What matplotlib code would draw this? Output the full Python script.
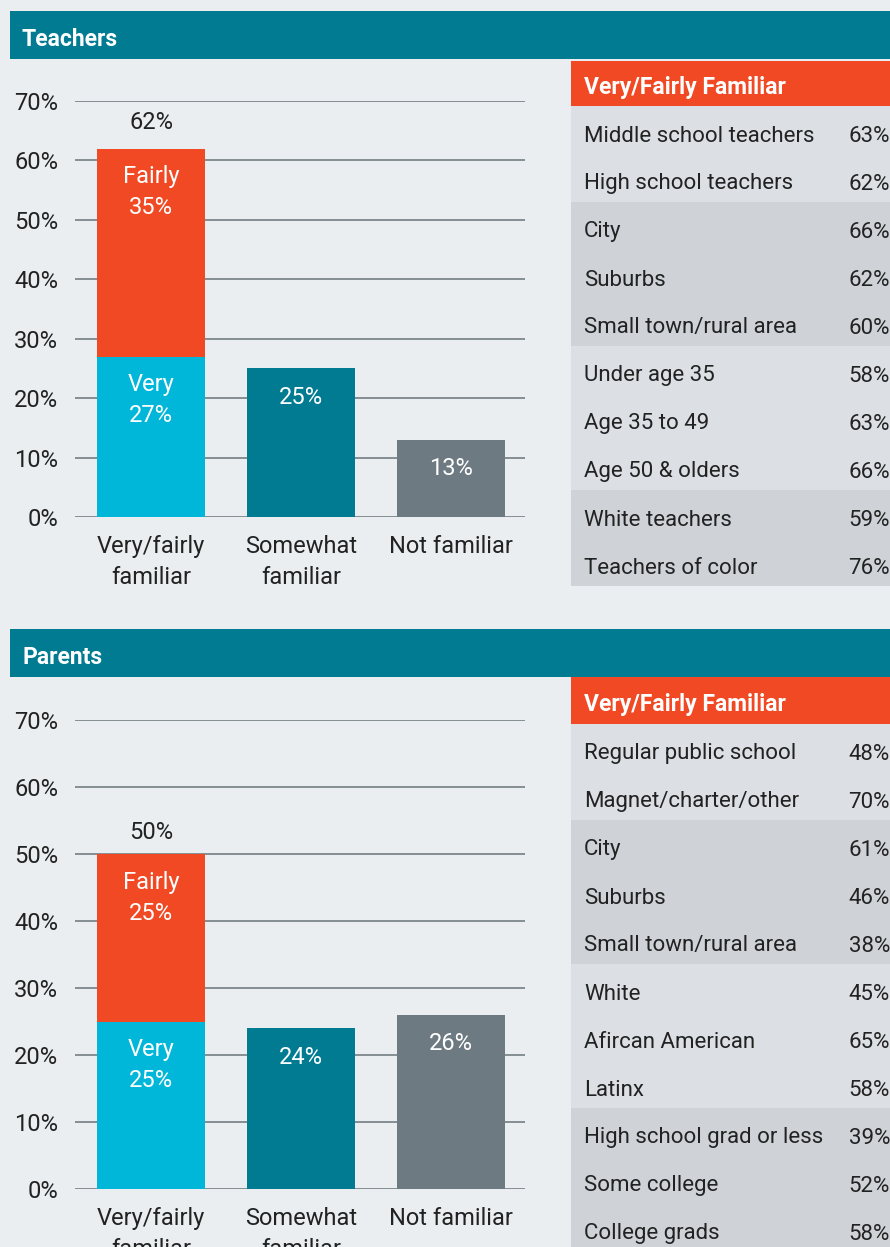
import matplotlib
matplotlib.use("Agg")
import matplotlib.pyplot as plt
from matplotlib.patches import Rectangle

plt.rcParams['font.family'] = ['Roboto', 'DejaVu Sans']

# ---------------- data ----------------
categories = ["Very/fairly\nfamiliar", "Somewhat\nfamiliar", "Not familiar"]

teachers_very = 27
teachers_fairly = 35
teachers_total = 62
teachers_somewhat = 25
teachers_not = 13

parents_very = 25
parents_fairly = 25
parents_total = 50
parents_somewhat = 24
parents_not = 26

teachers_rows = ["Middle school teachers", "High school teachers", "City", "Suburbs",
                 "Small town/rural area", "Under age 35", "Age 35 to 49",
                 "Age 50 & olders", "White teachers", "Teachers of color"]
teachers_vals = [63, 62, 66, 62, 60, 58, 63, 66, 59, 76]
teachers_groups = [0, 0, 1, 1, 1, 0, 0, 0, 1, 1]

parents_rows = ["Regular public school", "Magnet/charter/other", "City", "Suburbs",
                "Small town/rural area", "White", "Afircan American", "Latinx",
                "High school grad or less", "Some college", "College grads"]
parents_vals = [48, 70, 61, 46, 38, 45, 65, 58, 39, 52, 58]
parents_groups = [0, 0, 1, 1, 1, 0, 0, 0, 1, 1, 1]

yticks = [0, 10, 20, 30, 40, 50, 60, 70]
ytick_labels = ["0%", "10%", "20%", "30%", "40%", "50%", "60%", "70%"]

# ---------------- style ----------------
BG = "#eaeef1"
TEAL = "#007b91"
ORANGE = "#f04923"
CYAN = "#00b7d9"
GRAY = "#6e7a82"
ROW_LIGHT = "#dcdfe3"
ROW_DARK = "#cfd3d7"
TXT = "#222222"
GRID = "#7d868c"

W, H = 890, 1247
fig = plt.figure(figsize=(W / 100, H / 100), dpi=100, facecolor=BG)

# overlay axes in pixel coordinates for headers & tables
ov = fig.add_axes([0, 0, 1, 1], zorder=0)
ov.set_xlim(0, W)
ov.set_ylim(H, 0)
ov.axis("off")


def px_axes(x0, y_top, x1, y_bot):
    return fig.add_axes([x0 / W, 1 - y_bot / H, (x1 - x0) / W, (y_bot - y_top) / H], zorder=2)


def draw_chart(y_top, y_bot, very, fairly, total, somewhat, notf, total_off):
    ax = px_axes(75, y_top, 525, y_bot)
    ax.set_facecolor("none")
    ax.set_ylim(0, 70)
    ax.set_xlim(-0.507, 2.493)
    for t in yticks:
        ax.axhline(t, color=GRID, lw=1.3, zorder=1)
    bw = 0.72
    ax.bar(0, very, width=bw, color=CYAN, zorder=2)
    ax.bar(0, fairly, width=bw, bottom=very, color=ORANGE, zorder=2)
    ax.bar(1, somewhat, width=bw, color=TEAL, zorder=2)
    ax.bar(2, notf, width=bw, color=GRAY, zorder=2)
    for s in ax.spines.values():
        s.set_visible(False)
    ax.set_yticks(yticks)
    ax.set_yticklabels(ytick_labels, fontsize=17, color=TXT)
    ax.tick_params(axis="y", length=0, pad=12)
    ax.set_xticks([0, 1, 2])
    ax.set_xticklabels(categories, fontsize=17, color=TXT, linespacing=1.45)
    ax.tick_params(axis="x", length=0, pad=13)
    fs = 17
    ax.annotate(f"{total}%", (0, total), xytext=(0, total_off), textcoords="offset points",
                ha="center", va="center", fontsize=fs, color=TXT)
    ax.annotate(f"Fairly\n{fairly}%", (0, very + fairly), xytext=(0, -12), textcoords="offset points",
                ha="center", va="top", fontsize=fs, color="white", linespacing=1.45)
    ax.annotate(f"Very\n{very}%", (0, very), xytext=(0, -12), textcoords="offset points",
                ha="center", va="top", fontsize=fs, color="white", linespacing=1.45)
    ax.annotate(f"{somewhat}%", (1, somewhat), xytext=(0, -21), textcoords="offset points",
                ha="center", va="center", fontsize=fs, color="white")
    ax.annotate(f"{notf}%", (2, notf), xytext=(0, -21), textcoords="offset points",
                ha="center", va="center", fontsize=fs, color="white")
    return ax


def draw_header(y0, y1, text):
    ov.add_patch(Rectangle((10, y0), W - 10, y1 - y0, color=TEAL, lw=0))
    ov.text(22, (y0 + y1) / 2 + 5, text, color="white", fontsize=16.5, fontweight="bold",
            va="center", ha="left")


def draw_table(y_head0, y_head1, rows, vals, groups):
    ov.add_patch(Rectangle((571, y_head0), W - 571, y_head1 - y_head0, color=ORANGE, lw=0))
    ov.text(584, (y_head0 + y_head1) / 2 + 4, "Very/Fairly Familiar", color="white",
            fontsize=16.5, fontweight="bold", va="center", ha="left")
    rh = 48
    for i, (r, v, g) in enumerate(zip(rows, vals, groups)):
        y = y_head1 + i * rh
        ov.add_patch(Rectangle((571, y), W - 571, rh, color=ROW_DARK if g else ROW_LIGHT, lw=0))
        ov.text(584, y + rh / 2 + 6, r, color=TXT, fontsize=16, va="center", ha="left")
        ov.text(890, y + rh / 2 + 6, f"{v}%", color=TXT, fontsize=16, va="center", ha="right")


draw_header(11, 59, "Teachers")
draw_table(61, 106, teachers_rows, teachers_vals, teachers_groups)
draw_chart(101, 517, teachers_very, teachers_fairly, teachers_total, teachers_somewhat, teachers_not, 18.5)

draw_header(629, 677, "Parents")
draw_table(677, 724, parents_rows, parents_vals, parents_groups)
draw_chart(720, 1189, parents_very, parents_fairly, parents_total, parents_somewhat, parents_not, 15.5)

fig.savefig("out.png", dpi=100, facecolor=BG)
